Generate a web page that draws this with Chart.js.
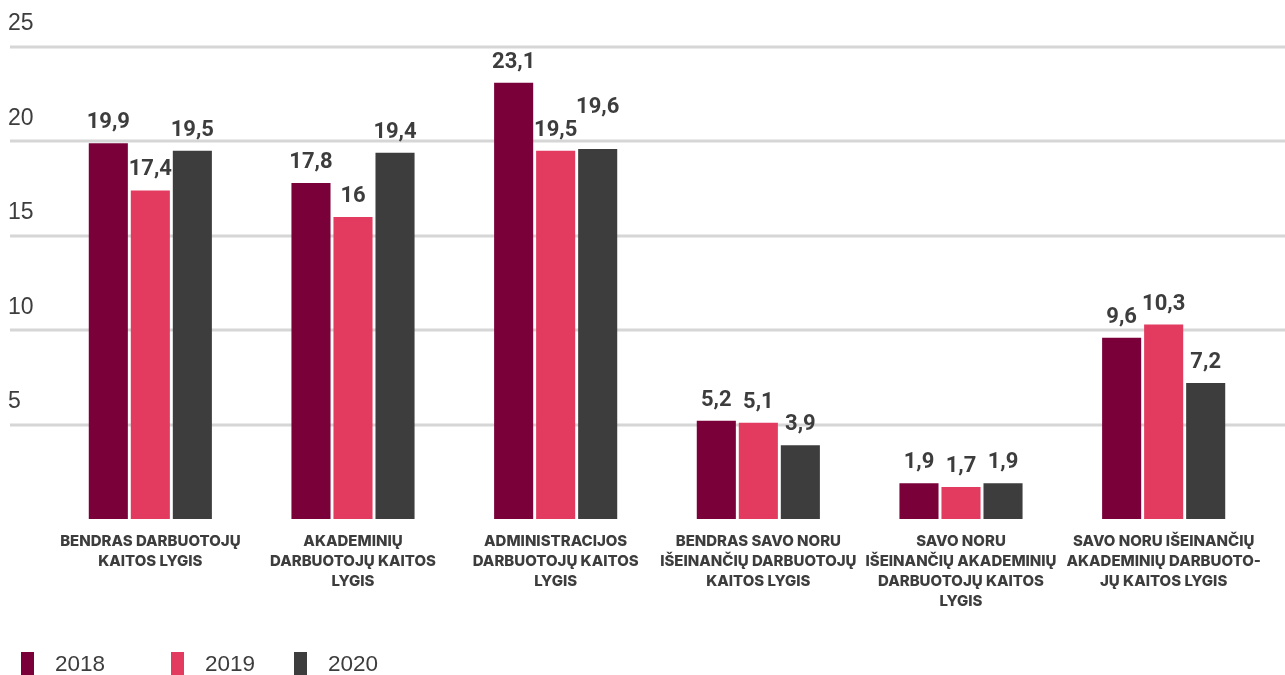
<!DOCTYPE html>
<html>
<head>
<meta charset="utf-8">
<script src="https://cdn.jsdelivr.net/npm/chart.js@4.4.0/dist/chart.umd.min.js"></script>
<style>
  body { margin: 0; background: #fff; }
  #wrap { position: relative; width: 1285px; height: 675px; }
  #legend { position: absolute; left: 0; top: 652px; height: 23px; width: 100%; font-family: "Liberation Sans", Arial, sans-serif; font-size: 22.5px; color: #3d3d3d; }
  .item { position: absolute; top: 0; height: 23px; }
  .box { position: absolute; left: 0; top: 0; width: 13px; height: 23px; }
  .txt { position: absolute; top: 0; line-height: 23px; white-space: nowrap; }
</style>
</head>
<body>
<div id="wrap">
  <canvas id="barChart"></canvas>
  <div id="legend"></div>
</div>
<script>
const CATEGORIES = [
    ["BENDRAS DARBUOTOJŲ", "KAITOS LYGIS"],
    ["AKADEMINIŲ", "DARBUOTOJŲ KAITOS", "LYGIS"],
    ["ADMINISTRACIJOS", "DARBUOTOJŲ KAITOS", "LYGIS"],
    ["BENDRAS SAVO NORU", "IŠEINANČIŲ DARBUOTOJŲ", "KAITOS LYGIS"],
    ["SAVO NORU", "IŠEINANČIŲ AKADEMINIŲ", "DARBUOTOJŲ KAITOS", "LYGIS"],
    ["SAVO NORU IŠEINANČIŲ", "AKADEMINIŲ DARBUOTO-", "JŲ KAITOS LYGIS"]
]
const YEARS = ["2018", "2019", "2020"]
const VALUES_2018 = [19.9, 17.8, 23.1, 5.2, 1.9, 9.6]
const VALUES_2019 = [17.4, 16, 19.5, 5.1, 1.7, 10.3]
const VALUES_2020 = [19.5, 19.4, 19.6, 3.9, 1.9, 7.2]
const Y_TICKS = [0, 5, 10, 15, 20, 25]
const COLORS = ["#7a0039", "#e33a5f", "#3d3d3d"]

//Gridlines running past the plot area, like in the original
const gridPlugin = {
    id: 'wideGrid',
    beforeDatasetsDraw(chart) {
        const ctx = chart.ctx
        const y = chart.scales.y
        ctx.save()
        ctx.strokeStyle = '#d6d6d6'
        ctx.lineWidth = 3
        Y_TICKS.forEach((v) => {
            if (v === 0) return
            const py = Math.round(y.getPixelForValue(v))
            ctx.beginPath()
            ctx.moveTo(10, py)
            ctx.lineTo(chart.width, py)
            ctx.stroke()
        })
        ctx.restore()
    }
}

//Value labels above bars, lifted when they bump into the left neighbour
const valuePlugin = {
    id: 'valueLabels',
    afterDatasetsDraw(chart) {
        const ctx = chart.ctx
        ctx.save()
        ctx.font = 'bold 22px Roboto, sans-serif'
        ctx.fillStyle = '#3d3d3d'
        ctx.textAlign = 'center'
        ctx.textBaseline = 'alphabetic'
        const labelH = 17
        const n = chart.data.labels.length
        for (let j = 0; j < n; j++) {
            let prev = null
            chart.data.datasets.forEach((ds, i) => {
                const bar = chart.getDatasetMeta(i).data[j]
                const text = String(ds.data[j]).replace('.', ',')
                const w = ctx.measureText(text).width
                let base = bar.y - 15
                const box = { l: bar.x - w / 2, r: bar.x + w / 2 }
                if (prev && box.l < prev.r + 4 && Math.abs(base - prev.base) < labelH + 4) {
                    base = prev.base - labelH - 6
                }
                ctx.fillText(text, bar.x, base)
                prev = { l: box.l, r: box.r, base: base }
            })
        }
        ctx.restore()
    }
}

const myBar = new Chart(document.getElementById("barChart").getContext("2d"), {
    type: 'bar',
    data: {
        labels: CATEGORIES,
        datasets: [
            { label: YEARS[0], data: VALUES_2018, backgroundColor: COLORS[0] },
            { label: YEARS[1], data: VALUES_2019, backgroundColor: COLORS[1] },
            { label: YEARS[2], data: VALUES_2020, backgroundColor: COLORS[2] }
        ]
    },
    options: {
        responsive: true,
        maintainAspectRatio: false,
        animation: false,
        categoryPercentage: 0.622,
        barPercentage: 0.93,
        layout: { padding: { top: 47, left: 8, right: 20, bottom: 0 } },
        plugins: {
            legend: { display: false },
            tooltip: { enabled: false }
        },
        scales: {
            x: {
                grid: { display: false, drawTicks: false },
                border: { display: false },
                afterFit: (scale) => { scale.height = 156 },
                ticks: {
                    padding: 12,
                    maxRotation: 0,
                    autoSkip: false,
                    color: '#3d3d3d',
                    font: { family: 'Inter, Roboto, sans-serif', weight: '800', size: 15, lineHeight: '20px' }
                }
            },
            y: {
                min: 0,
                max: 25,
                grid: { display: false, drawTicks: false },
                border: { display: false },
                afterFit: (scale) => { scale.width = 41 },
                ticks: {
                    stepSize: 5,
                    crossAlign: 'far',
                    labelOffset: -23,
                    padding: 0,
                    color: '#3d3d3d',
                    font: { family: 'Liberation Sans', size: 23 },
                    callback: (v) => v === 0 ? '' : v
                }
            }
        }
    },
    plugins: [gridPlugin, valuePlugin]
})

//Legend below the chart
const legend = document.getElementById("legend")
const LEGEND_X = [21, 171, 294]
YEARS.forEach((year, i) => {
    const item = document.createElement("div")
    item.className = "item"
    item.style.left = LEGEND_X[i] + "px"
    item.innerHTML = `<div class="box" style="background:${COLORS[i]}"></div><div class="txt" style="left:34px">${year}</div>`
    legend.appendChild(item)
})
</script>
</body>
</html>
